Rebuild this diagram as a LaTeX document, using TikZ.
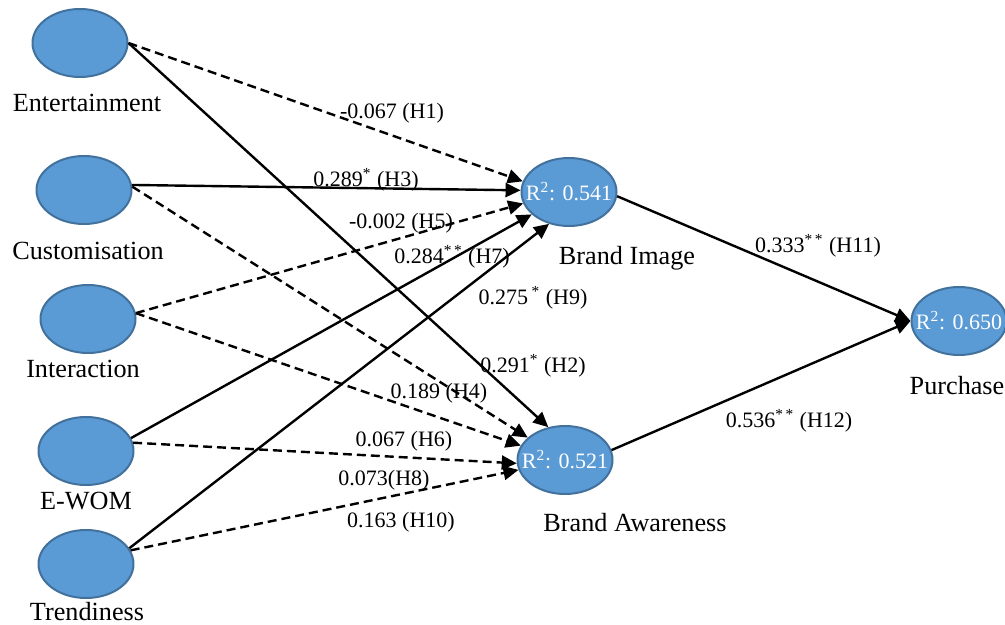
\documentclass[tikz,border=0pt]{standalone}
\usepackage{fontspec}
\setmainfont{Liberation Serif}
\usetikzlibrary{arrows.meta,shapes.geometric}
\definecolor{latfill}{HTML}{5B9BD5}
\definecolor{latdraw}{HTML}{41719C}
\begin{document}
\begin{tikzpicture}[x=0.5pt,y=-0.5pt,line join=round,
  lv/.style={ellipse,draw=latdraw,fill=latfill,line width=1pt,
    minimum width=47.5pt,minimum height=34pt,inner ysep=0pt,inner xsep=-5pt,
    text=white,font=\fontsize{11}{13}\selectfont},
  lvname/.style={font=\fontsize{13.1}{15}\selectfont},
  coef/.style={font=\fontsize{11}{13}\selectfont,inner sep=1pt},
  sig/.style={-{Triangle[length=7.5pt,width=7pt]},line width=1.2pt},
  ns/.style={sig,dash pattern=on 4.5pt off 2.5pt}]
\useasboundingbox (0,0) rectangle (1005,625);

% 外生变量（左列）
\node[lv] (ent)  at (80,43)  {};
\node[lv] (cus)  at (84,190) {};
\node[lv] (int)  at (88,319) {};
\node[lv] (ewom) at (86,451) {};
\node[lv] (tre)  at (86,564) {};
\node[lvname] (ent-t)  at (87,103) {Entertainment};
\node[lvname] (cus-t)  at (88,251) {Customisation};
\node[lvname] (int-t)  at (83,369) {Interaction};
\node[lvname] (ewom-t) at (86,501) {E-WOM};
\node[lvname] (tre-t)  at (87,612) {Trendiness};

% 内生变量（R^2）
\node[lv] (bimg) at (569,192) {R\textsuperscript{2}: 0.541};
\node[lv] (bawr) at (565,460) {R\textsuperscript{2}: 0.521};
\node[lv] (pur)  at (959,321) {R\textsuperscript{2}: 0.650};
\node[lvname] (bimg-t) at (627,258) {Brand Image};
\node[lvname] (bawr-t) at (635,523) {Brand Awareness};
\node[lvname] (pur-t)  at (957,386) {Purchase};

% 路径：实线显著，虚线不显著
\draw[ns]  (ent.east) -- (bimg.167);
\draw[sig] (ent.east) -- (bawr.117);
\draw[sig] (cus.6)    -- (bimg.178);
\draw[ns]  (cus.4)    -- (bawr.149);
\draw[ns]  (int.7)    -- (bimg.194);
\draw[ns]  (int.7)    -- (bawr.162);
\draw[sig] (ewom.16)  -- (bimg.211);
\draw[ns]  (ewom.10)  -- (bawr.184);
\draw[sig] (tre.20)   -- (bimg.238);
\draw[ns]  (tre.17)   -- (bawr.192);
\draw[sig] (bimg.-5)  -- (pur.west);
\draw[sig] (bawr.12)  -- (pur.west);

% 路径系数
\node[coef] (h1)  at (392,113) {-0.067 (H1)};
\node[coef] (h3)  at (366,180) {0.289\textsuperscript{*} (H3)};
\node[coef] (h5)  at (401,223) {-0.002 (H5)};
\node[coef] (h7)  at (452,257) {0.284\textsuperscript{*\,*} (H7)};
\node[coef] (h9)  at (533,298) {0.275\,\textsuperscript{*} (H9)};
\node[coef] (h2)  at (533,366) {0.291\textsuperscript{*} (H2)};
\node[coef] (h4)  at (439,393) {0.189 (H4)};
\node[coef] (h6)  at (404,441) {0.067 (H6)};
\node[coef] (h8)  at (384,480) {0.073(H8)};
\node[coef] (h10) at (401,522) {0.163 (H10)};
\node[coef] (h11) at (818,246) {0.333\textsuperscript{*\,*} (H11)};
\node[coef] (h12) at (789,421) {0.536\textsuperscript{*\,*} (H12)};

\end{tikzpicture}
\end{document}
